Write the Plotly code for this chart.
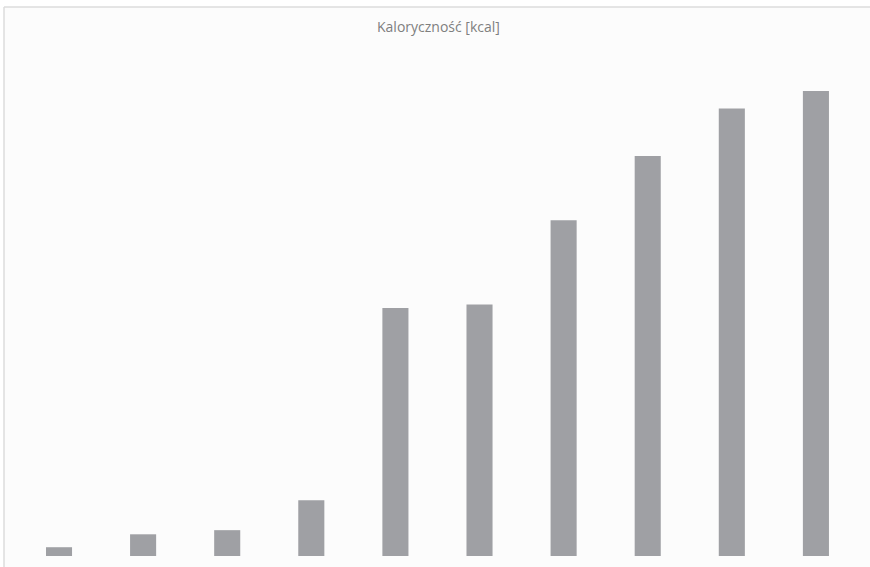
import plotly.graph_objects as go

# Energy values per product, in kcal
categories = ["1", "2", "3", "4", "5", "6", "7", "8", "9", "10"]
kcal = [17, 42, 50, 108, 480, 487, 650, 774, 866, 900]

title_text = "Kaloryczność [kcal]"
bar_color = "#9fa0a4"

fig = go.Figure(
    go.Bar(
        x=list(range(len(categories))),
        y=kcal,
        width=0.31,
        marker=dict(color=bar_color, line=dict(width=0)),
        hovertext=categories,
    )
)

fig.update_layout(
    width=870,
    height=567,
    margin=dict(l=4, r=0, t=7, b=0),
    paper_bgcolor="#ffffff",
    plot_bgcolor="#fcfcfc",
    showlegend=False,
    xaxis=dict(range=[-0.654, 9.643], visible=False, fixedrange=True),
    yaxis=dict(range=[-21.3, 1062.6], visible=False, fixedrange=True),
    shapes=[
        # chart frame (top and left edges)
        dict(type="line", xref="paper", yref="paper", x0=0, x1=1.01, y0=1, y1=1,
             line=dict(color="#dcdcdc", width=1.5)),
        dict(type="line", xref="paper", yref="paper", x0=0, x1=0, y0=-0.02, y1=1,
             line=dict(color="#dcdcdc", width=1.5)),
    ],
    annotations=[
        dict(text=title_text, xref="paper", yref="paper",
             x=(438 - 4) / 866, y=1 - (27 - 7) / 560,
             xanchor="center", yanchor="middle", showarrow=False,
             font=dict(family="Open Sans", size=14, color="#7f7f7f")),
    ],
)

fig.write_html("out.html")
